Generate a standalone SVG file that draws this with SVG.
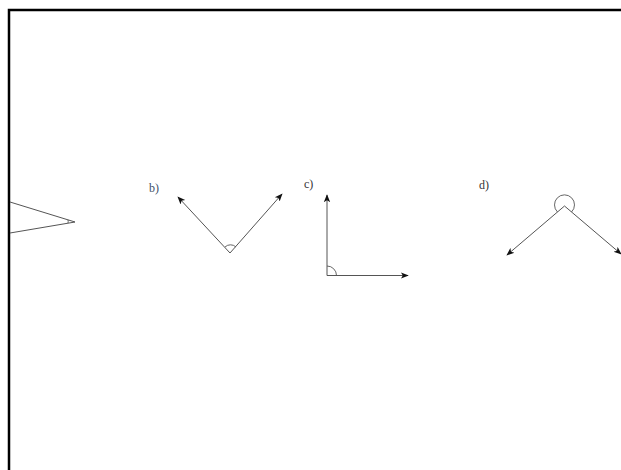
<svg xmlns="http://www.w3.org/2000/svg" width="621" height="470" viewBox="0 0 621 470">
<defs>
<marker id="ah" viewBox="0 0 10 10" refX="9" refY="5" markerWidth="8" markerHeight="8" markerUnits="userSpaceOnUse" orient="auto">
<path d="M0,1 L10,5 L0,9 L2.5,5 Z" fill="#111"/>
</marker>
</defs>
<style>
.ln{stroke:#555;stroke-width:1;fill:none}
.arr{stroke:#555;stroke-width:1;fill:none;marker-end:url(#ah)}
.arc{stroke:#555;stroke-width:0.9;fill:none}
.lbl{font-family:"Liberation Serif",serif;font-size:12px;fill:#333}
</style>
<rect width="621" height="470" fill="#fff"/>
<path d="M9,470 L9,10 L621,10" fill="none" stroke="#000" stroke-width="2.5"/>
<g id="angle-a">
<path class="ln" d="M10,202 L75,222 L10,233"/>
<path class="arc" d="M68,219.9 A7,7 0 0 1 68,223.1"/>
</g>
<g id="angle-b">
<text class="lbl" x="149" y="192" style="fill:#3d5068">b)</text>
<path class="arc" d="M225,247 A8,8 0 0 1 236,247"/>
</g>
<g id="angle-c">
<text class="lbl" x="304" y="188">c)</text>
<path class="arc" d="M327,266 A9.5,9.5 0 0 1 336.5,275.5"/>
</g>
<g id="angle-d">
<text class="lbl" x="479" y="189">d)</text>
<path class="arc" d="M557.5,212 A10,10 0 1 1 571.5,212"/>
</g>
<g id="connectors">
<path class="arr" d="M230,253 L178,197"/>
<path class="arr" d="M230,253 L282,194"/>
<path class="arr" d="M327,275.5 L327,195"/>
<path class="arr" d="M327,275.5 L408,275.5"/>
<path class="arr" d="M564.5,206 L507,255"/>
<path class="arr" d="M564.5,206 L621,254"/>
</g>
</svg>
